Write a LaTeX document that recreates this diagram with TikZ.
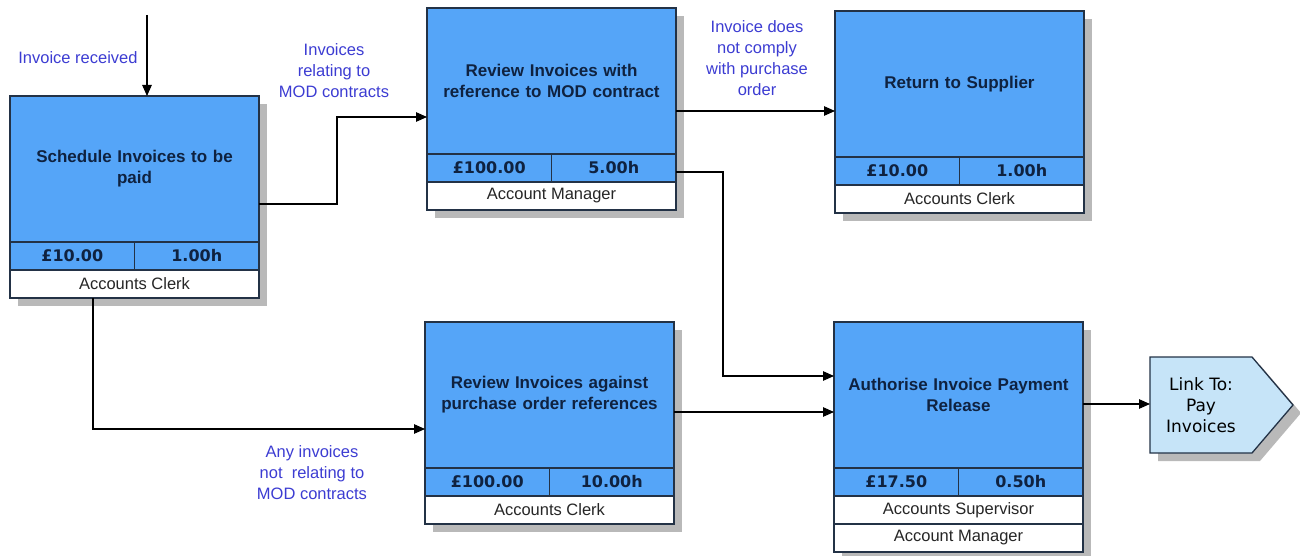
\documentclass[tikz,border=0pt]{standalone}
\usepackage{fontspec}
\setmainfont{Liberation Sans}
\newfontfamily\dvfont{DejaVu Sans}
\usetikzlibrary{arrows.meta,calc,backgrounds}
\definecolor{boxblue}{RGB}{85,165,248}
\definecolor{linkblue}{RGB}{198,228,248}
\definecolor{lblblue}{RGB}{60,60,210}
\definecolor{titlec}{RGB}{15,34,64}
\definecolor{borderc}{RGB}{35,50,70}
\definecolor{shadowc}{RGB}{185,185,185}
\tikzset{
  boxbase/.style={draw=borderc, line width=1.3pt, outer sep=0pt, inner sep=0pt},
  mainbox/.style={boxbase, fill=boxblue, minimum width=249pt, minimum height=146pt,
    text width=235pt, align=center, text=titlec,
    font=\fontsize{17}{21}\selectfont\bfseries},
  costbox/.style={boxbase, fill=boxblue, minimum width=124.5pt, minimum height=28pt,
    text=titlec, font=\dvfont\fontsize{16}{18}\selectfont\bfseries},
  rolebox/.style={boxbase, fill=white, minimum width=249pt, minimum height=28pt,
    text=black!85, font=\fontsize{16.5}{20}\selectfont},
  lbl/.style={text=lblblue, align=center, font=\fontsize{16.5}{21}\selectfont},
  arr/.style={draw=black, line width=1.1pt, -{Triangle[length=11pt,width=9.5pt]}},
  shadow/.style={fill=shadowc}
}
\newcommand\procbox[6]{%
  \node[mainbox, anchor=north west] (#1) at (#2) {#3};
  \node[costbox, anchor=north west] (#1c) at (#1.south west) {#4};
  \node[costbox, anchor=north east] (#1t) at (#1.south east) {#5};
  \node[rolebox, anchor=north west] (#1r) at (#1c.south west) {#6};
}
\begin{document}
\begin{tikzpicture}[x=1pt,y=-1pt]
\useasboundingbox (0,0) rectangle (1300,556);

\procbox{A}{10,96}{Schedule Invoices to be\\paid}{£10.00}{1.00h}{Accounts Clerk}
\procbox{B}{427,8}{Review Invoices with\\reference to MOD contract}{£100.00}{5.00h}{Account Manager}
\procbox{C}{835,11}{Return to Supplier}{£10.00}{1.00h}{Accounts Clerk}
\procbox{D}{425,322}{Review Invoices against\\purchase order references}{£100.00}{10.00h}{Accounts Clerk}
\procbox{E}{834,322}{Authorise Invoice Payment\\Release}{£17.50}{0.50h}{Accounts Supervisor}
\node[rolebox, anchor=north west] (Er2) at (Er.south west) {Account Manager};

% link shape
\node[minimum width=102pt, minimum height=96pt, inner sep=0pt, outer sep=0pt,
  anchor=north west, align=center, font=\dvfont\fontsize{17}{21}\selectfont] (L) at (1150,357)
  {Link To:\\Pay\\Invoices};
\begin{scope}[on background layer]
  \fill[shadow] ($(A.north west)+(8,8)$) rectangle ($(Ar.south east)+(8,8)$);
  \fill[shadow] ($(B.north west)+(8,8)$) rectangle ($(Br.south east)+(8,8)$);
  \fill[shadow] ($(C.north west)+(8,8)$) rectangle ($(Cr.south east)+(8,8)$);
  \fill[shadow] ($(D.north west)+(8,8)$) rectangle ($(Dr.south east)+(8,8)$);
  \fill[shadow] ($(E.north west)+(8,8)$) rectangle ($(Er2.south east)+(8,8)$);
  \fill[shadow] ($(L.north west)+(8,8)$) -- ($(L.north east)+(8,8)$) -- ($(L.east)+(49,8)$)
     -- ($(L.south east)+(8,8)$) -- ($(L.south west)+(8,8)$) -- cycle;
  \filldraw[fill=linkblue, draw=borderc, line width=1.3pt] (L.north west) -- (L.north east)
     -- ([xshift=41pt]L.east) -- (L.south east) -- (L.south west) -- cycle;
\end{scope}

% connectors
\coordinate (inv) at (147,15);
\draw[arr] (inv) -- (inv |- A.north);
\node[lbl] (l1) at (78,58) {Invoice received};

\draw[arr] ([yshift=-108pt]A.north east) -- ++(78,0) |- ([yshift=-109pt]B.north west);
\node[lbl] (l2) at (334,71) {Invoices\\relating to\\MOD contracts};

\draw[arr] ([yshift=-103pt]B.north east) coordinate (b3) -- (b3 -| C.west);
\node[lbl] (l3) at (757,58) {Invoice does\\not comply\\with purchase\\order};

\draw[arr] ([yshift=-4pt]Bt.east) -- ++(47,0) |- ([yshift=-54pt]E.north west);

\draw[arr] ([xshift=83pt]Ar.south west) |- ([yshift=-107pt]D.north west);
\node[lbl] (l4) at (312,473) {Any invoices\\not~ relating to\\MOD contracts};

\draw[arr] ([yshift=-90pt]D.north east) coordinate (d6) -- (d6 -| E.west);
\draw[arr] ([yshift=-82pt]E.north east) coordinate (e7) -- (e7 -| L.west);
\end{tikzpicture}
\end{document}
